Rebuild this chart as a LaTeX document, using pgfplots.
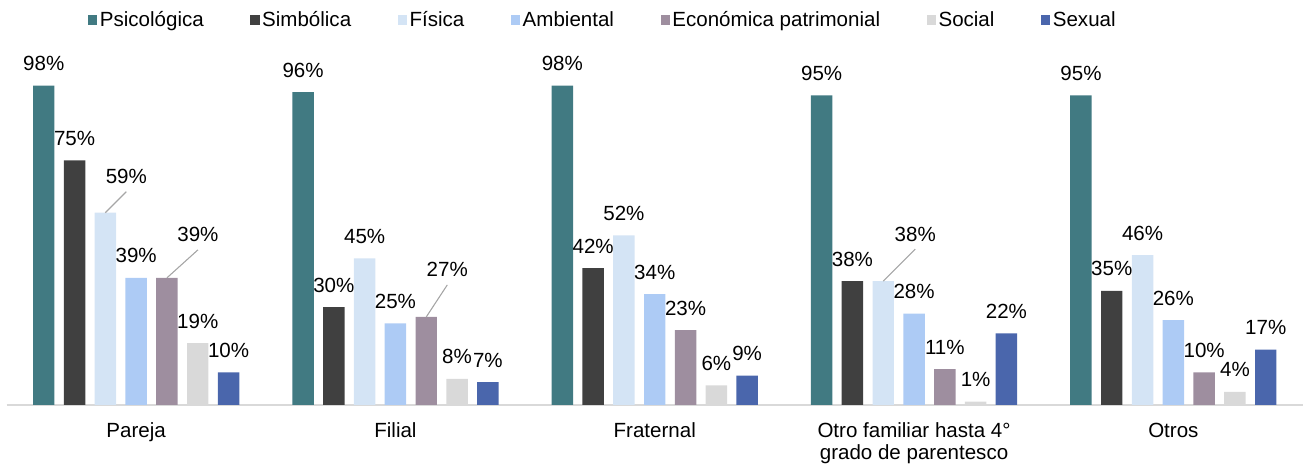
\documentclass[border=0pt]{standalone}
\usepackage{fontspec}
\setmainfont{Liberation Sans}
\usepackage{pgfplots}
\usepackage{pgfplotstable}
\pgfplotsset{compat=1.18}
\definecolor{cPsi}{HTML}{417A82}
\definecolor{cSim}{HTML}{404040}
\definecolor{cFis}{HTML}{D4E4F5}
\definecolor{cAmb}{HTML}{ADCBF5}
\definecolor{cEco}{HTML}{9E8E9F}
\definecolor{cSoc}{HTML}{D9D9D9}
\definecolor{cSex}{HTML}{4A66AC}
\definecolor{cLead}{HTML}{A6A6A6}
% columns: x, value, label x-shift (pt), label y-shift (pt), leader line (1 = drawn)
\pgfplotstableread{
x y dx dy lo
0 98 0 0 0
1 96 0 0 0
2 98 0 0 0
3 95 0 0 0
4 95 0 0 0
}\tPsi
\pgfplotstableread{
x y dx dy lo
0 75 0 0 0
1 30 0 0 0
2 42 0 0 0
3 38 0 0 0
4 35 0 0 0
}\tSim
\pgfplotstableread{
x y dx dy lo
0 59 15.75 10.5 1
1 45 0 0 0
2 52 0 0 0
3 38 24 18.75 1
4 46 0 0 0
}\tFis
\pgfplotstableread{
x y dx dy lo
0 39 0 0 0
1 25 0 0 0
2 34 0 0 0
3 28 0 0 0
4 26 0 0 0
}\tAmb
\pgfplotstableread{
x y dx dy lo
0 39 23.25 15.75 1
1 27 15.75 18.75 1
2 23 0 0 0
3 11 0 0 0
4 10 0 0 0
}\tEco
\pgfplotstableread{
x y dx dy lo
0 19 0 0 0
1 8 0 0 0
2 6 0 0 0
3 1 0 0 0
4 4 0 0 0
}\tSoc
\pgfplotstableread{
x y dx dy lo
0 10 0 0 0
1 7 0 0 0
2 9 0 0 0
3 22 0 0 0
4 17 0 0 0
}\tSex
\newcommand{\chartfont}{\fontsize{15.4}{16.5}\selectfont}
\begin{document}
\begin{tikzpicture}
\useasboundingbox (-4.875pt,-45.75pt) rectangle (972.4pt,303.75pt);
\begin{axis}[
  at={(0pt,0pt)}, anchor=south west,
  scale only axis,
  width=972.4pt, height=244.5pt,
  xmin=-0.5, xmax=4.5,
  ymin=0, ymax=100,
  axis y line=none,
  axis x line*=bottom,
  x axis line style={draw=cSoc, line width=1.1pt, -},
  xtick={0,1,2,3,4},
  xticklabels={Pareja,Filial,Fraternal,{Otro familiar hasta 4°\\grado de parentesco},Otros},
  major tick length=0pt,
  xticklabel style={font=\chartfont, align=center, anchor=north, yshift=-13.3pt, inner sep=0pt},
  ybar=7pt,
  bar width=16.1pt,
  clip=false,
  visualization depends on={\thisrow{dx}\as\dx},
  visualization depends on={\thisrow{dy}\as\dy},
  visualization depends on={\thisrow{lo}\as\lo},
  nodes near coords={\pgfmathprintnumber[fixed,precision=0,assume math mode=true]{\pgfplotspointmeta}\%},
  every node near coord/.append style={
    font=\chartfont, text=black, anchor=base, inner sep=0pt,
    xshift=\dx pt, yshift=11.25pt+\dy pt,
    append after command={
      (\tikzlastnode.base) ++(0pt,-6pt*\lo) edge[draw=cLead, line width=0.8pt, draw opacity=\lo] ++(-\dx pt*\lo,-\dy pt*\lo-5.25pt*\lo)
    }
  },
  legend columns=7,
  legend style={
    at={(0.0628,1.181)}, anchor=west,
    draw=none, fill=none, inner sep=0pt,
    font=\chartfont,
    /tikz/every even column/.append style={column sep=33pt},
  },
  legend image code/.code={\fill[#1, draw=none] (0pt,-3.4pt) rectangle (6.8pt,3.4pt);},
]
\addplot[fill=cPsi, draw=none] table[x=x,y=y] {\tPsi};
\addplot[fill=cSim, draw=none] table[x=x,y=y] {\tSim};
\addplot[fill=cFis, draw=none] table[x=x,y=y] {\tFis};
\addplot[fill=cAmb, draw=none] table[x=x,y=y] {\tAmb};
\addplot[fill=cEco, draw=none] table[x=x,y=y] {\tEco};
\addplot[fill=cSoc, draw=none] table[x=x,y=y] {\tSoc};
\addplot[fill=cSex, draw=none] table[x=x,y=y] {\tSex};
\legend{Psicológica,Simbólica,Física,Ambiental,Económica patrimonial,Social,Sexual}
\end{axis}
\end{tikzpicture}
\end{document}
